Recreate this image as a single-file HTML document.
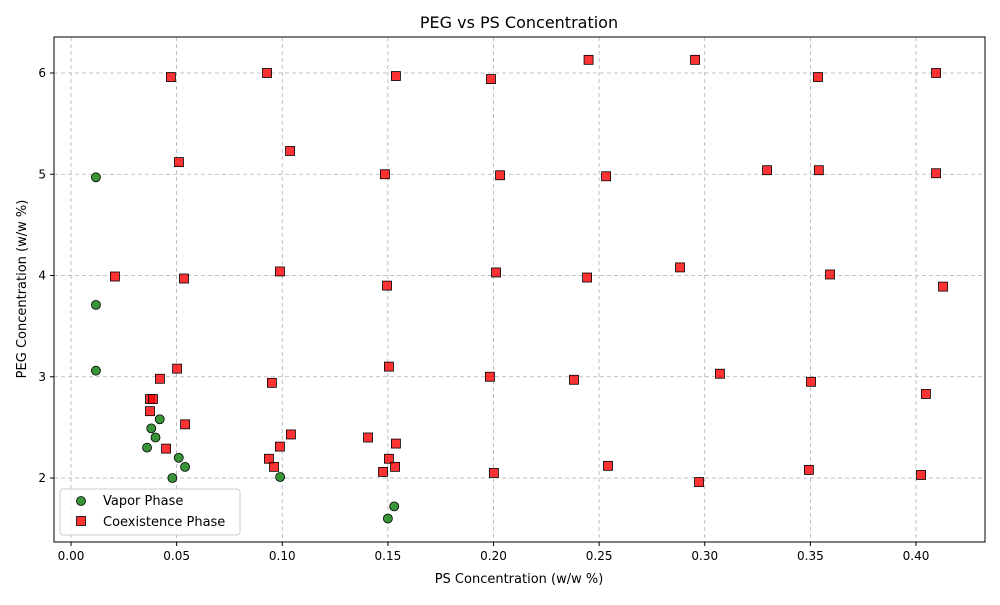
<!DOCTYPE html>
<html><head><meta charset="utf-8"><style>
body{margin:0;background:#fff;font-family:"Liberation Sans","DejaVu Sans",sans-serif}
svg text{font-family:"DejaVu Sans","Liberation Sans",sans-serif}
</style></head><body>
<svg id="chart" width="1000" height="600" xmlns="http://www.w3.org/2000/svg">
<rect width="1000" height="600" fill="#fff"/>
<text x="519" y="28" font-size="16" text-anchor="middle">PEG vs PS Concentration</text>
<g id="grid"></g><g id="marks"></g><g id="axes"></g>
<text x="519" y="583" font-size="13" text-anchor="middle">PS Concentration (w/w %)</text>
<text transform="translate(26,289) rotate(-90)" font-size="13" text-anchor="middle">PEG Concentration (w/w %)</text>
<g>
<rect x="60" y="489" width="180" height="46" fill="#fff" fill-opacity="0.8" stroke="#ccc" rx="3"/>
<circle cx="81" cy="501" r="4.5" fill="#228b22" fill-opacity="0.9" stroke="#000" stroke-width="0.8"/>
<text x="103" y="505" font-size="13">Vapor Phase</text>
<rect x="76.5" y="516.5" width="9" height="9" fill="#ff0000" fill-opacity="0.8" stroke="#000" stroke-width="0.8"/>
<text x="103" y="526" font-size="13">Coexistence Phase</text>
</g>
</svg>
<script>
const xTicks=[0,0.05,0.10,0.15,0.20,0.25,0.30,0.35,0.40];
const xTickLabels=["0.00","0.05","0.10","0.15","0.20","0.25","0.30","0.35","0.40"];
const yTicks=[2,3,4,5,6];
const yTickLabels=["2","3","4","5","6"];
const vaporX=[0.0118,0.0118,0.0118,0.042,0.038,0.040,0.036,0.051,0.054,0.048,0.099,0.153,0.150];
const vaporY=[4.97,3.71,3.06,2.58,2.49,2.40,2.30,2.20,2.11,2.00,2.01,1.72,1.60];
const coexX=[0.0473,0.0928,0.1538,0.1988,0.245,0.2954,0.3536,0.4095,0.0511,0.1037,0.1486,0.2031,0.2533,0.3295,0.354,0.4095,0.0208,0.0535,0.0989,0.2012,0.2443,0.2883,0.3593,0.4128,0.1496,0.0421,0.0502,0.0951,0.1505,0.1983,0.2381,0.3072,0.3503,0.4047,0.0374,0.0388,0.0374,0.054,0.045,0.0937,0.0961,0.0989,0.1041,0.1406,0.1505,0.1538,0.1534,0.1477,0.2002,0.2542,0.2973,0.3493,0.4024];
const coexY=[5.96,6.00,5.97,5.94,6.13,6.13,5.96,6.00,5.12,5.23,5.00,4.99,4.98,5.04,5.04,5.01,3.99,3.97,4.04,4.03,3.98,4.08,4.01,3.89,3.90,2.98,3.08,2.94,3.10,3.00,2.97,3.03,2.95,2.83,2.78,2.78,2.66,2.53,2.29,2.19,2.11,2.31,2.43,2.40,2.19,2.34,2.11,2.06,2.05,2.12,1.96,2.08,2.03];
const L=54,R=985,T=37,B=542;
const xs=v=>71+v*2112.5, ys=v=>478-(v-2)*101.25;
const NS="http://www.w3.org/2000/svg";
function mk(tag,attrs,parent){const e=document.createElementNS(NS,tag);for(const k in attrs)e.setAttribute(k,attrs[k]);parent.appendChild(e);return e;}
const grid=document.getElementById('grid'),axes=document.getElementById('axes'),marks=document.getElementById('marks');
xTicks.forEach((t,i)=>{const x=xs(t);
 let g=mk('line',{x1:x,x2:x,y1:T,y2:B,stroke:'#b0b0b0','stroke-dasharray':'4,3','stroke-width':0.8},grid);
 
 mk('line',{x1:x,x2:x,y1:B,y2:B+4,stroke:'#000'},axes);
 let tx=mk('text',{x:x,y:B+18,'font-size':12,'text-anchor':'middle'},axes);tx.textContent=xTickLabels[i];
 });
yTicks.forEach((t,i)=>{const y=ys(t);
 let g=mk('line',{x1:L,x2:R,y1:y,y2:y,stroke:'#b0b0b0','stroke-dasharray':'4,3','stroke-width':0.8},grid);
 
 mk('line',{x1:L-4,x2:L,y1:y,y2:y,stroke:'#000'},axes);
 let tx=mk('text',{x:L-8,y:y+4,'font-size':12,'text-anchor':'end'},axes);tx.textContent=yTickLabels[i];
 });
let fr=mk('rect',{x:L,y:T,width:R-L,height:B-T,fill:'none',stroke:'#000','stroke-width':1},axes);

vaporX.forEach((v,i)=>{let c=mk('circle',{cx:xs(v),cy:ys(vaporY[i]),r:4.5,fill:'#228b22','fill-opacity':0.9,stroke:'#000','stroke-width':0.8},marks);
 });
coexX.forEach((v,i)=>{let r=mk('rect',{x:xs(v)-4.5,y:ys(coexY[i])-4.5,width:9,height:9,fill:'#ff0000','fill-opacity':0.8,stroke:'#000','stroke-width':0.8},marks);
 });
</script>
</body></html>
